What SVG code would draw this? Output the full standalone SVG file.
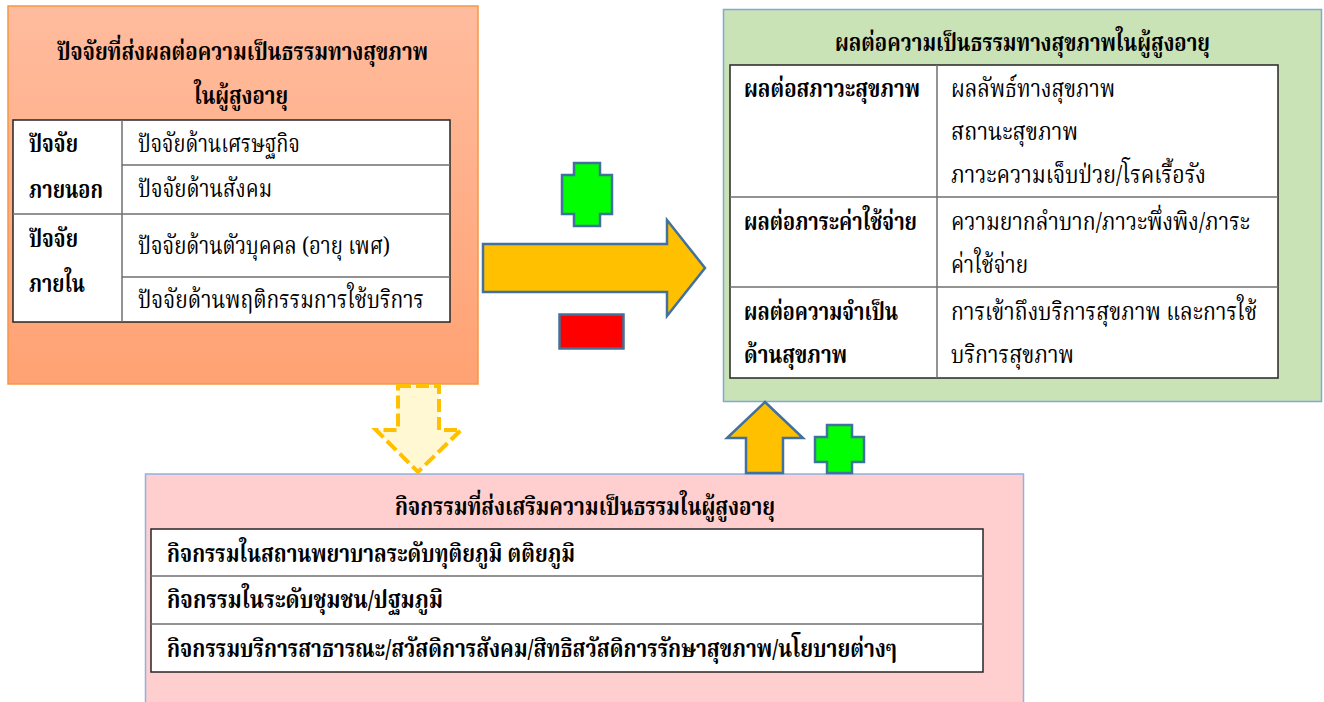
<svg xmlns="http://www.w3.org/2000/svg" width="1324" height="702" viewBox="0 0 1324 702">
<defs>
<linearGradient id="gOrange" x1="0" y1="0" x2="0" y2="1">
<stop offset="0" stop-color="#FFBC9E"/>
<stop offset="1" stop-color="#FFA273"/>
</linearGradient>
</defs>
<style>
.th{font-family:'Noto Serif Thai','Noto Sans Thai','Noto Sans','DejaVu Sans',serif;fill:#000;font-size:24px}
.b{font-weight:bold}
.tbl{fill:#fff;stroke:#262626;stroke-width:1.5}
.dv{stroke:#6f6f6f;stroke-width:1.5}
.arr{fill:#FFC000;stroke:#41719C;stroke-width:2.5;stroke-linejoin:miter}
.plus{fill:#00FF00;stroke:#41719C;stroke-width:2.5}
.minus{fill:#FF0000;stroke:#41719C;stroke-width:2.5}
</style>
<rect width="1324" height="702" fill="#fff"/>

<g id="node-factors">
<rect x="8" y="6" width="470" height="378" fill="url(#gOrange)" stroke="#F79646" stroke-width="1.5"/>
<text class="th b" x="242.5" y="60" text-anchor="middle" textLength="371" lengthAdjust="spacingAndGlyphs">ปัจจัยที่ส่งผลต่อความเป็นธรรมทางสุขภาพ</text>
<text class="th b" x="241" y="104" text-anchor="middle" textLength="94" lengthAdjust="spacingAndGlyphs">ในผู้สูงอายุ</text>
<rect class="tbl" x="13" y="120" width="437" height="202"/>
<line class="dv" x1="122" y1="120" x2="122" y2="322"/>
<line class="dv" x1="122" y1="165" x2="450" y2="165"/>
<line class="dv" x1="13" y1="214" x2="450" y2="214"/>
<line class="dv" x1="122" y1="277" x2="450" y2="277"/>
<text class="th b" x="29" y="152" textLength="49" lengthAdjust="spacingAndGlyphs">ปัจจัย</text>
<text class="th b" x="29" y="198" textLength="74" lengthAdjust="spacingAndGlyphs">ภายนอก</text>
<text class="th b" x="29" y="247" textLength="49" lengthAdjust="spacingAndGlyphs">ปัจจัย</text>
<text class="th b" x="29" y="292" textLength="56" lengthAdjust="spacingAndGlyphs">ภายใน</text>
<text class="th" x="138" y="152" textLength="162" lengthAdjust="spacingAndGlyphs">ปัจจัยด้านเศรษฐกิจ</text>
<text class="th" x="138" y="197" textLength="134" lengthAdjust="spacingAndGlyphs">ปัจจัยด้านสังคม</text>
<text class="th" x="138" y="254" textLength="252" lengthAdjust="spacingAndGlyphs">ปัจจัยด้านตัวบุคคล (อายุ เพศ)</text>
<text class="th" x="138" y="308" textLength="286" lengthAdjust="spacingAndGlyphs">ปัจจัยด้านพฤติกรรมการใช้บริการ</text>
</g>

<g id="node-effects">
<rect x="723.5" y="9.5" width="598" height="392" fill="#C9E3B6" stroke="#7FA7DA" stroke-width="1.5"/>
<text class="th b" x="1022.5" y="51" text-anchor="middle" textLength="375" lengthAdjust="spacingAndGlyphs">ผลต่อความเป็นธรรมทางสุขภาพในผู้สูงอายุ</text>
<rect class="tbl" x="730" y="65" width="548" height="313"/>
<line class="dv" x1="937" y1="65" x2="937" y2="378"/>
<line class="dv" x1="730" y1="197" x2="1278" y2="197"/>
<line class="dv" x1="730" y1="287" x2="1278" y2="287"/>
<text class="th b" x="744" y="97" textLength="176" lengthAdjust="spacingAndGlyphs">ผลต่อสภาวะสุขภาพ</text>
<text class="th b" x="744" y="230" textLength="173" lengthAdjust="spacingAndGlyphs">ผลต่อภาระค่าใช้จ่าย</text>
<text class="th b" x="744" y="320" textLength="154" lengthAdjust="spacingAndGlyphs">ผลต่อความจำเป็น</text>
<text class="th b" x="744" y="363" textLength="103" lengthAdjust="spacingAndGlyphs">ด้านสุขภาพ</text>
<text class="th" x="951" y="97" textLength="164" lengthAdjust="spacingAndGlyphs">ผลลัพธ์ทางสุขภาพ</text>
<text class="th" x="951" y="140" textLength="127" lengthAdjust="spacingAndGlyphs">สถานะสุขภาพ</text>
<text class="th" x="951" y="183" textLength="255" lengthAdjust="spacingAndGlyphs">ภาวะความเจ็บป่วย/โรคเรื้อรัง</text>
<text class="th" x="951" y="230" textLength="299" lengthAdjust="spacingAndGlyphs">ความยากลำบาก/ภาวะพึ่งพิง/ภาระ</text>
<text class="th" x="951" y="273" textLength="77" lengthAdjust="spacingAndGlyphs">ค่าใช้จ่าย</text>
<text class="th" x="951" y="320" textLength="306" lengthAdjust="spacingAndGlyphs">การเข้าถึงบริการสุขภาพ และการใช้</text>
<text class="th" x="951" y="363" textLength="123" lengthAdjust="spacingAndGlyphs">บริการสุขภาพ</text>
</g>

<g id="node-activities">
<rect x="145.5" y="474" width="878" height="240" fill="#FFCFCF" stroke="#8DB3E2" stroke-width="1.5"/>
<text class="th b" x="585" y="515" text-anchor="middle" textLength="380" lengthAdjust="spacingAndGlyphs">กิจกรรมที่ส่งเสริมความเป็นธรรมในผู้สูงอายุ</text>
<rect class="tbl" x="151" y="529" width="832" height="143"/>
<line class="dv" x1="151" y1="576" x2="983" y2="576"/>
<line class="dv" x1="151" y1="624" x2="983" y2="624"/>
<text class="th b" x="167" y="562" textLength="408" lengthAdjust="spacingAndGlyphs">กิจกรรมในสถานพยาบาลระดับทุติยภูมิ ตติยภูมิ</text>
<text class="th b" x="167" y="608" textLength="276" lengthAdjust="spacingAndGlyphs">กิจกรรมในระดับชุมชน/ปฐมภูมิ</text>
<text class="th b" x="167" y="657" textLength="730" lengthAdjust="spacingAndGlyphs">กิจกรรมบริการสาธารณะ/สวัสดิการสังคม/สิทธิสวัสดิการรักษาสุขภาพ/นโยบายต่างๆ</text>
</g>

<g id="connectors">
<polygon id="arrow-main" class="arr" points="483,244 667,244 667,220 705,268 667,316 667,292 483,292"/>
<polygon id="arrow-down" points="398,386 439,386 439,430 461,430 418,472 376,430 398,430" fill="#FFF8D2" stroke="#FFC000" stroke-width="4" stroke-dasharray="13,5"/>
<polygon id="arrow-up" class="arr" points="765,402 803,438 783,438 783,473 746,473 746,438 727,438"/>
</g>

<g id="sign-plus-top">
<polygon class="plus" points="574,163 600,163 600,175 612,175 612,214 600,214 600,226 574,226 574,214 562,214 562,175 574,175"/>
</g>
<g id="sign-minus">
<rect class="minus" x="559.5" y="314.5" width="64" height="34"/>
</g>
<g id="sign-plus-bottom">
<polygon class="plus" points="827,425 852,425 852,437 864,437 864,462 852,462 852,473 827,473 827,462 815,462 815,437 827,437"/>
</g>
</svg>
